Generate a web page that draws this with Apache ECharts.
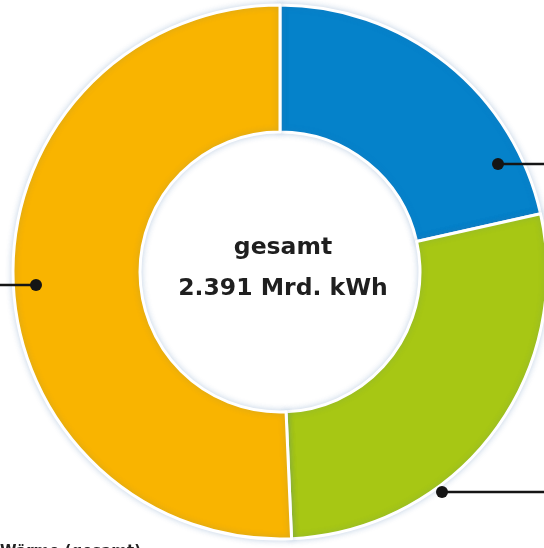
<!DOCTYPE html>
<html>
<head>
<meta charset="utf-8">
<script src="https://cdn.jsdelivr.net/npm/echarts@6/dist/echarts.min.js"></script>
<style>
  html, body { margin: 0; padding: 0; background: #fff; }
  #chart { width: 544px; height: 548px; }
</style>
</head>
<body>
<div id="chart"></div>
<script>
// Endenergieverbrauch, Mrd. kWh
const categories = ['Strom', 'Verkehr', 'Wärme']
const values = [514, 665, 1212]
const colors = ['#0582ca', '#a7c714', '#f9b400']
const totalLabel = ['gesamt', '2.391 Mrd. kWh']

const chart = echarts.init(document.getElementById('chart'), null, { renderer: 'canvas' })

// leader markers (label text sits outside the cropped picture)
const markers = [
  { dot: [498, 164], to: 560 },
  { dot: [442, 492], to: 560 },
  { dot: [36, 285], to: -20 }
]

const graphics = []
markers.forEach(m => {
  graphics.push({
    type: 'line',
    shape: { x1: m.dot[0], y1: m.dot[1], x2: m.to, y2: m.dot[1] },
    style: { stroke: '#151515', lineWidth: 2.5 },
    z: 10
  })
  graphics.push({
    type: 'circle',
    shape: { cx: m.dot[0], cy: m.dot[1], r: 6 },
    style: { fill: '#151515' },
    z: 11
  })
})
graphics.push({
  type: 'text',
  x: 0,
  y: 545,
  style: { text: 'Wärme (gesamt)', font: 'bold 15px "DejaVu Sans"', fill: '#222', verticalAlign: 'top' },
  z: 10
})

const option = {
  backgroundColor: '#fff',
  animation: false,
  title: {
    text: totalLabel[0] + '\n' + totalLabel[1],
    left: 278,
    top: 222,
    textAlign: 'center',
    textStyle: {
      fontFamily: 'DejaVu Sans',
      fontWeight: 'bold',
      fontSize: 23.5,
      lineHeight: 41,
      color: '#1f1f1f'
    }
  },
  graphic: graphics,
  series: [
    {
      type: 'pie',
      center: [280, 272],
      radius: [140, 267],
      startAngle: 90,
      clockwise: true,
      avoidLabelOverlap: false,
      label: { show: false },
      labelLine: { show: false },
      itemStyle: {
        borderColor: '#fff',
        borderWidth: 3,
        shadowBlur: 6,
        shadowColor: 'rgba(60, 110, 170, 0.25)'
      },
      data: categories.map((c, i) => ({ name: c, value: values[i], itemStyle: { color: colors[i] } }))
    }
  ]
}

chart.setOption(option)
</script>
</body>
</html>
